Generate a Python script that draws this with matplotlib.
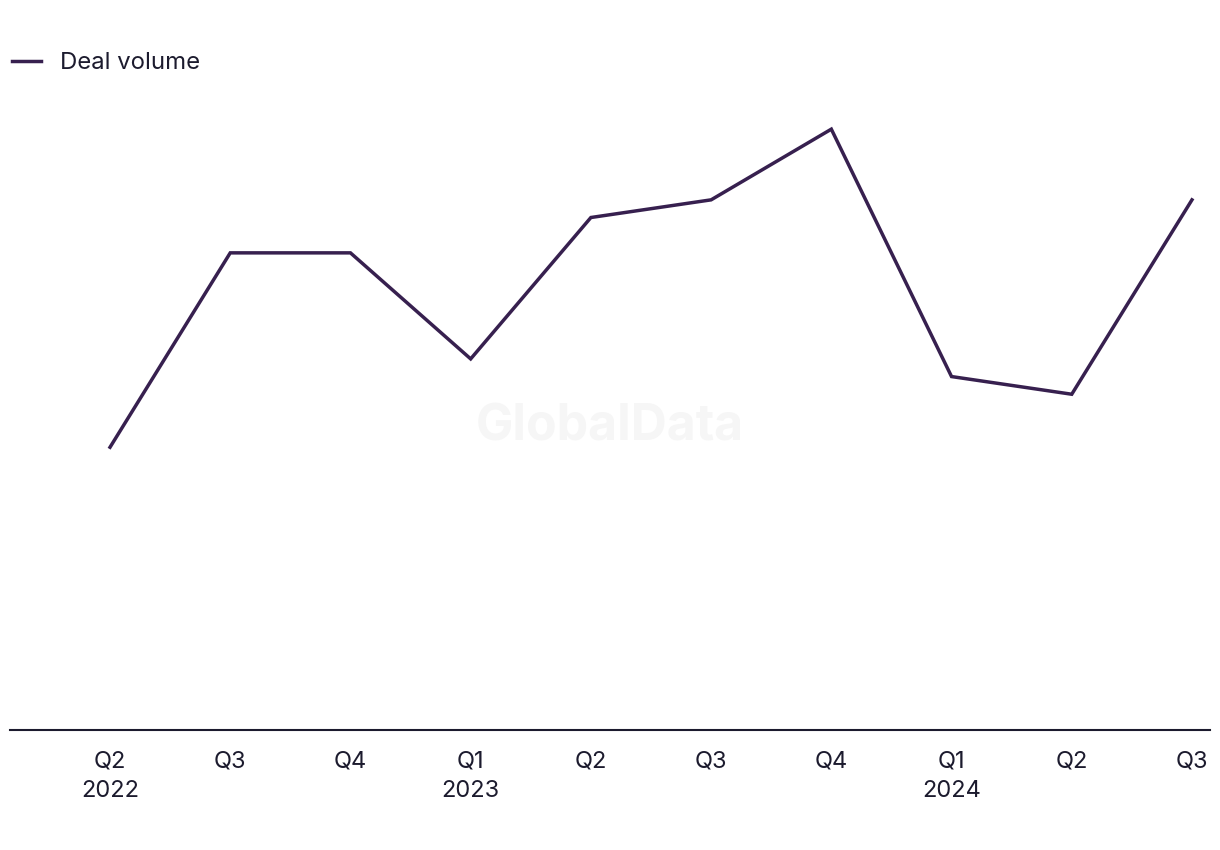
import matplotlib
matplotlib.use("Agg")
import matplotlib.pyplot as plt

quarters = ["Q2", "Q3", "Q4", "Q1", "Q2", "Q3", "Q4", "Q1", "Q2", "Q3"]
years = ["2022", "", "", "2023", "", "", "", "2024", "", ""]
deal_volume = [16, 27, 27, 21, 29, 30, 34, 20, 19, 30]

plt.rcParams['font.family'] = ['Inter', 'DejaVu Sans']
line_color = "#37204f"
text_color = "#1c1b2e"

fig = plt.figure(figsize=(12.2, 8.5), dpi=100)
ax = fig.add_axes([10/1220, 120/850, 1200/1220, 630/850])

x = list(range(len(quarters)))
ax.plot(x, deal_volume, color=line_color, lw=2.5, label="Deal volume",
        solid_joinstyle="miter", zorder=3)

ax.set_xlim(-0.832, 9.15)
ax.set_ylim(0, 35.65)
ax.set_yticks([])
ax.set_xticks(x)
ax.set_xticklabels([q + ("\n" + y if y else "") for q, y in zip(quarters, years)],
                   fontsize=17, color=text_color, linespacing=1.4, va="top")
ax.tick_params(axis="x", length=0, pad=15)
for s in ["top", "right", "left"]:
    ax.spines[s].set_visible(False)
ax.spines["bottom"].set_color(text_color)
ax.spines["bottom"].set_linewidth(1.5)

fig.text(610/1220, 1 - 427/850, "GlobalData", fontsize=36, fontweight="bold",
         color="#f6f6f6", ha="center", va="center", zorder=0)

fig.legend(loc="center left", bbox_to_anchor=(12/1220, 1 - 63/850), frameon=False,
           handlelength=1.2, handletextpad=0.8, borderaxespad=0, borderpad=0,
           prop={"size": 17.2}, labelcolor=text_color)

fig.savefig("out.png", dpi=100, facecolor="white")
